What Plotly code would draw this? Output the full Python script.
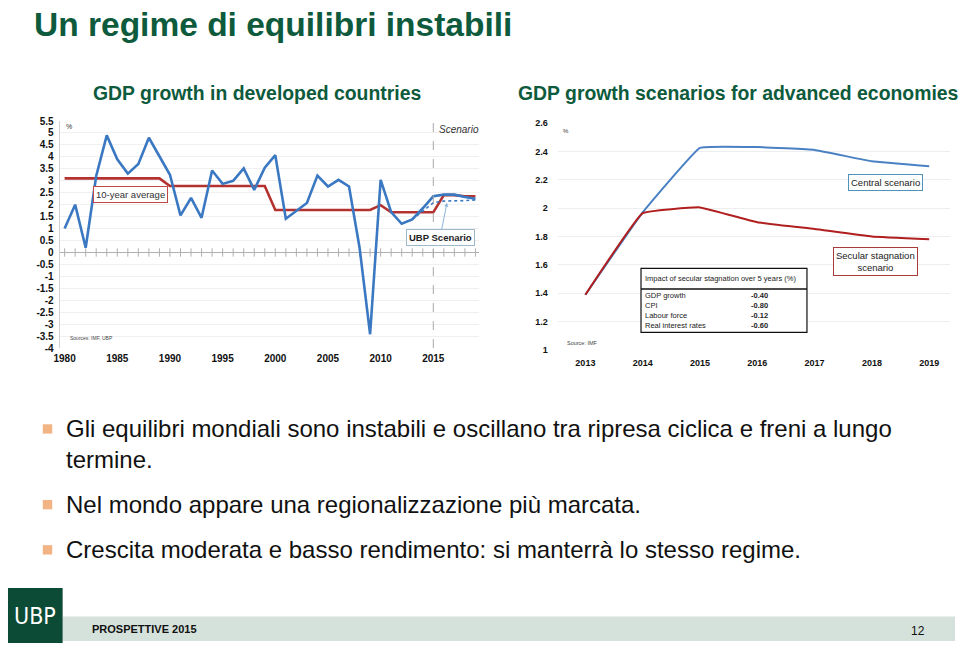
import plotly.graph_objects as go

W, H = 960, 648

# ---------------- data ----------------
years_hist = list(range(1980, 2020))
gdp_growth = [1.0, 2.0, 0.2, 3.2, 4.9, 3.9, 3.3, 3.7, 4.8, 4.0,
              3.25, 1.55, 2.28, 1.45, 3.43, 2.87, 3.0, 3.52, 2.62, 3.55,
              4.07, 1.41, 1.73, 2.07, 3.22, 2.76, 3.04, 2.76, 0.2, -3.42,
              3.04, 1.69, 1.2, 1.38, 1.85, 2.35, 2.42, 2.42, 2.32, 2.25]
ten_year_avg = [3.1, 3.1, 3.1, 3.1, 3.1, 3.1, 3.1, 3.1, 3.1, 3.1,
                2.78, 2.78, 2.78, 2.78, 2.78, 2.78, 2.78, 2.78, 2.78, 2.78,
                1.78, 1.78, 1.78, 1.78, 1.78, 1.78, 1.78, 1.78, 1.78, 1.78,
                1.98, 1.68, 1.68, 1.68, 1.68, 1.68, 2.4, 2.4, 2.35, 2.35]
years_ubp = [2013, 2014, 2015, 2016, 2017, 2018, 2019]
ubp_scenario = [1.38, 1.75, 2.08, 2.15, 2.15, 2.17, 2.2]

years_scen = [2013, 2014, 2015, 2016, 2017, 2018, 2019]
central_scenario = [1.39, 1.97, 2.425, 2.43, 2.41, 2.33, 2.295]
secular_scenario = [1.39, 1.965, 2.005, 1.90, 1.853, 1.80, 1.78]

left_yticks = [5.5, 5, 4.5, 4, 3.5, 3, 2.5, 2, 1.5, 1, 0.5, 0, -0.5, -1, -1.5,
               -2, -2.5, -3, -3.5, -4]
left_yticktext = ["5.5", "5", "4.5", "4", "3.5", "3", "2.5", "2", "1.5", "1", "0.5",
                  "0", "-0.5", "-1", "-1.5", "-2", "-2.5", "-3", "-3.5", "-4"]
left_xticks = [1980, 1985, 1990, 1995, 2000, 2005, 2010, 2015]
right_yticks = [2.6, 2.4, 2.2, 2.0, 1.8, 1.6, 1.4, 1.2, 1.0]
right_yticktext = ["2.6", "2.4", "2.2", "2", "1.8", "1.6", "1.4", "1.2", "1"]

table_header = "Impact of secular stagnation over 5 years (%)"
table_labels = ["GDP growth", "CPI", "Labour force", "Real interest rates"]
table_values = ["-0.40", "-0.80", "-0.12", "-0.60"]

bullets = [
    ["Gli equilibri mondiali sono instabili e oscillano tra ripresa ciclica e freni a lungo", "termine."],
    ["Nel mondo appare una regionalizzazione più marcata."],
    ["Crescita moderata e basso rendimento: si manterrà lo stesso regime."],
]

# ---------------- helpers ----------------
def px(x):
    return x / W

def py(y):
    return 1 - y / H

FONT = "Liberation Sans, Arial, sans-serif"
GREEN = "#0d5a3c"
BLUE = "#3b78c2"
RED = "#b3312f"

fig = go.Figure()

# Left chart
fig.add_trace(go.Scatter(x=years_hist, y=[0] * len(years_hist), mode="markers",
                         marker=dict(symbol="line-ns", size=6,
                                     line=dict(color="#b0b0b0", width=1)),
                         hoverinfo="skip", xaxis="x", yaxis="y"))
fig.add_trace(go.Scatter(x=years_hist, y=ten_year_avg, mode="lines",
                         line=dict(color=RED, width=2.6), xaxis="x", yaxis="y"))
fig.add_trace(go.Scatter(x=years_ubp, y=ubp_scenario, mode="lines",
                         line=dict(color=BLUE, width=1.6, dash="dot"),
                         xaxis="x", yaxis="y"))
fig.add_trace(go.Scatter(x=years_hist, y=gdp_growth, mode="lines",
                         line=dict(color=BLUE, width=2.6), xaxis="x", yaxis="y"))

# Right chart
fig.add_trace(go.Scatter(x=years_scen, y=central_scenario, mode="lines",
                         line=dict(color="#4a80c4", width=2, shape="spline", smoothing=0.25),
                         xaxis="x2", yaxis="y2"))
fig.add_trace(go.Scatter(x=years_scen, y=secular_scenario, mode="lines",
                         line=dict(color="#b01e1e", width=2, shape="spline", smoothing=0.25),
                         xaxis="x2", yaxis="y2"))

tickfont = dict(family=FONT, size=10, color="#111", weight="bold")
tickfont2 = dict(family=FONT, size=9, color="#111", weight="bold")
clear = "rgba(0,0,0,0)"

fig.update_layout(
    width=W, height=H, margin=dict(l=0, r=0, t=0, b=0),
    paper_bgcolor="white", plot_bgcolor="white", showlegend=False,
    xaxis=dict(domain=[px(54), px(476)], range=[1979.53, 2019.34],
               tickvals=left_xticks, tickfont=tickfont, showgrid=False,
               zeroline=False, showline=False, ticks="outside", ticklen=1,
               tickcolor=clear, anchor="y"),
    yaxis=dict(domain=[py(348), py(117)], range=[-4, 5.5],
               tickvals=left_yticks, ticktext=left_yticktext, tickfont=tickfont,
               showgrid=True, gridcolor="#f0f0f0", gridwidth=1,
               zeroline=True, zerolinecolor="#b0b0b0", zerolinewidth=1,
               showline=True, linecolor="#d0d0d0", linewidth=1, anchor="x",
               ticks="outside", ticklen=3, tickcolor=clear),
    xaxis2=dict(domain=[px(555), px(950)], range=[2012.514, 2019.364],
                tickvals=years_scen, tickfont=tickfont2, showgrid=False,
                zeroline=False, showline=False, ticks="outside", ticklen=4,
                tickcolor=clear, anchor="y2"),
    yaxis2=dict(domain=[py(350), py(119)], range=[1, 2.6],
                tickvals=right_yticks, ticktext=right_yticktext, tickfont=tickfont2,
                showgrid=True, gridcolor="#eeeeee", zeroline=False,
                showline=False, anchor="x2", ticks="outside", ticklen=7,
                tickcolor=clear),
)

shapes = []
ann = []

def note(x, y, text, size, color="#222", xanchor="center", **kw):
    d = dict(x=px(x), y=py(y), xref="paper", yref="paper", xanchor=xanchor,
             yanchor="middle", showarrow=False, text=text,
             font=dict(family=FONT, size=size, color=color))
    d.update(kw)
    ann.append(d)

# Title and subtitles
note(26, 19, "<b>Un regime di equilibri instabili</b>", 33.5, GREEN, "left")
note(253, 88, "<b>GDP growth in developed countries</b>", 19.4, GREEN)
note(737, 88, "<b>GDP growth scenarios for advanced economies</b>", 19.4, GREEN)

# Left chart decorations
shapes.append(dict(type="line", xref="x", yref="y domain", x0=2015, x1=2015, y0=0, y1=1,
                   line=dict(color="#a8a8a8", width=1, dash="dash")))
note(63, 123, "%", 7, "#333")
note(62, 338, "Sources: IMF, UBP", 5, "#444", "left")
note(456, 126, "<i>Scenario</i>", 10, "#333")
note(125, 192, "10-year average", 9.5, "#333",
     bordercolor="#c04848", borderwidth=1, borderpad=2, bgcolor="white")
ann.append(dict(x=2016.3, y=2.08, xref="x", yref="y", ax=-7, ay=35, axref="pixel", ayref="pixel",
                showarrow=True, arrowhead=2, arrowsize=0.8, arrowwidth=1, arrowcolor="#8bb6dc",
                text="<b>UBP Scenario</b>", font=dict(family=FONT, size=9.5, color="#222"),
                bordercolor="#9cb8cc", borderwidth=1, borderpad=2, bgcolor="white"))

# Right chart decorations
note(564, 127, "%", 6, "#333")
note(563, 343, "Source: IMF", 5.5, "#444", "left")
note(885, 180, "Central scenario", 9.5, "#222",
     bordercolor="#4f93b8", borderwidth=1, borderpad=2, bgcolor="white")
note(875, 260, "Secular stagnation<br>scenario", 9.5, "#222",
     bordercolor="#a83a3a", borderwidth=1, borderpad=2, bgcolor="white")

# Table
shapes.append(dict(type="rect", xref="paper", yref="paper", x0=px(639), x1=px(806),
                   y0=py(332), y1=py(267), line=dict(color="#111", width=1.2), fillcolor="white"))
shapes.append(dict(type="line", xref="paper", yref="paper", x0=px(639), x1=px(806),
                   y0=py(288), y1=py(288), line=dict(color="#111", width=1.5)))
note(641, 277, table_header, 7.5, "#222", "left")
row_y = [294, 304.5, 315, 325.5]
for lab, val, ry in zip(table_labels, table_values, row_y):
    note(641, ry, lab, 7.5, "#222", "left")
    note(758, ry, "<b>" + val + "</b>", 7.5, "#222")

# Bullets
line_y = [[430, 461], [507], [553]]
for lines, ys in zip(bullets, line_y):
    shapes.append(dict(type="rect", xref="paper", yref="paper", x0=px(37), x1=px(46.5),
                       y0=py(ys[0] + 5), y1=py(ys[0] - 4.5), line=dict(width=0),
                       fillcolor="#f2b385"))
    for t, yy in zip(lines, ys):
        note(58, yy, t, 24, "#111", "left")

# Footer
shapes.append(dict(type="rect", xref="paper", yref="paper", x0=px(57), x1=px(955),
                   y0=py(646), y1=py(621), line=dict(width=0), fillcolor="#d5e2db"))
shapes.append(dict(type="rect", xref="paper", yref="paper", x0=px(2), x1=px(57),
                   y0=py(648), y1=py(592), line=dict(width=0), fillcolor="#0c4b35"))
ann.append(dict(x=px(29.5), y=py(621), xref="paper", yref="paper", xanchor="center",
                yanchor="middle", showarrow=False, text="UBP",
                font=dict(family="DejaVu Sans Condensed, Liberation Sans Narrow, sans-serif",
                          size=23, color="white")))
note(85, 634, "<b>PROSPETTIVE 2015</b>", 11, "#111", "left")
note(918, 636, "12", 12, "#111")

fig.update_layout(shapes=shapes, annotations=ann)
fig.write_html("out.html")
